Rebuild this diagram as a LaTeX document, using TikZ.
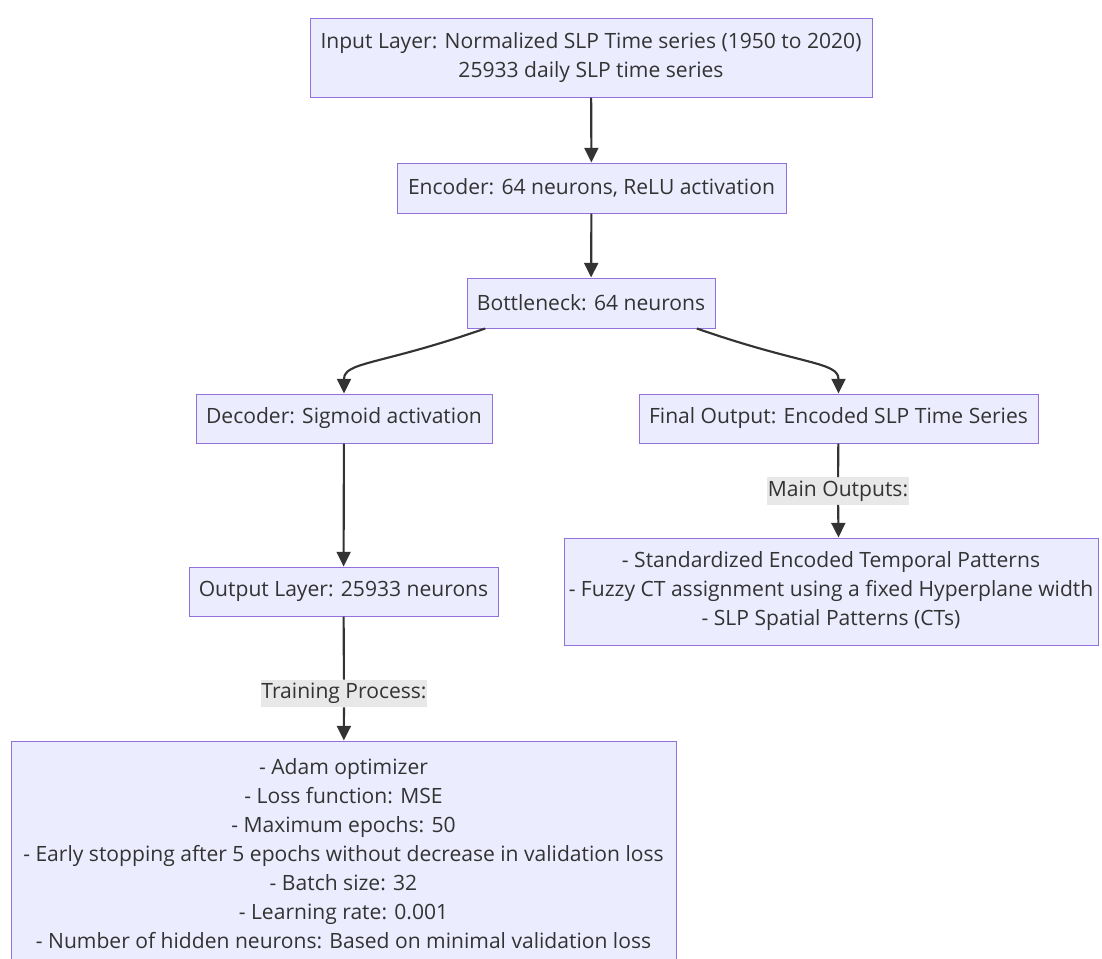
\documentclass[tikz,border=0pt]{standalone}
\usepackage{fontspec}
\setmainfont{Open Sans}
\usetikzlibrary{arrows.meta}

\definecolor{boxfill}{HTML}{ECECFF}
\definecolor{boxline}{HTML}{9370DB}
\definecolor{lblfill}{HTML}{E8E8E8}
\definecolor{edgecol}{HTML}{333333}

\begin{document}
\begin{tikzpicture}[x=0.75pt,y=0.75pt,yscale=-1,xscale=1,
	box/.style={draw=boxline,fill=boxfill,line width=0.75pt,text=edgecol,align=center,inner sep=0pt,
		font=\fontsize{15.8}{21.75}\selectfont},
	lbl/.style={fill=lblfill,text=edgecol,inner xsep=0.5pt,inner ysep=2.5pt,
		font=\fontsize{15.8}{21.75}\selectfont},
	arr/.style={draw=edgecol,line width=1.6pt,-{Triangle[length=11pt,width=10.5pt]}}]
	%set diagram at 1102 x 958
	\useasboundingbox (0,0) rectangle (1102,958);
	\clip (0,0) rectangle (1102,958);
	
	%Shape: Rectangle [input]
	\node [box,minimum width=421.5pt,minimum height=59.25pt] (inp) at (591,57.5)
		{Input Layer: Normalized SLP Time series (1950 to 2020)\\25933 daily SLP time series};
	%Shape: Rectangle [encoder]
	\node [box,minimum width=291.75pt,minimum height=37.5pt] (enc) at (591.5,188) {Encoder: 64 neurons, ReLU activation};
	%Shape: Rectangle [bottleneck]
	\node [box,minimum width=186pt,minimum height=37.5pt] (bneck) at (591,303) {Bottleneck: 64 neurons};
	%Shape: Rectangle [decoder]
	\node [box,minimum width=222pt,minimum height=36.75pt] (dec) at (344,418.5) {Decoder: Sigmoid activation};
	%Shape: Rectangle [final output]
	\node [box,minimum width=299.25pt,minimum height=36.75pt] (fin) at (838.5,418.5) {Final Output: Encoded SLP Time Series};
	%Shape: Rectangle [output layer]
	\node [box,minimum width=231.75pt,minimum height=36.75pt] (outl) at (343.5,591.5) {Output Layer: 25933 neurons};
	%Shape: Rectangle [main outputs]
	\node [box,minimum width=400.5pt,minimum height=80.25pt] (mout) at (831,591.5)
		{- Standardized Encoded Temporal Patterns\\- Fuzzy CT assignment using a fixed Hyperplane width\\- SLP Spatial Patterns (CTs)};
	%Shape: Rectangle [training]
	\node [box,minimum width=498.75pt,minimum height=169.5pt] (train) at (343.5,854)
		{- Adam optimizer\\- Loss function: MSE\\- Maximum epochs: 50\\- Early stopping after 5 epochs without decrease in validation loss\\- Batch size: 32\\- Learning rate: 0.001\\- Number of hidden neurons: Based on minimal validation loss};
	
	% Text Node
	\node [lbl] (tlab) at (344,693.5) {Training Process:};
	% Text Node
	\node [lbl] (mlab) at (838,491) {Main Outputs:};
	
	%Straight Lines
	\draw [arr] (inp) -- (enc);
	\draw [arr] (enc) -- (bneck);
	\draw [arr] (dec) -- (outl);
	\draw [arr] (outl) -- (tlab) -- (train);
	\draw [arr] (fin) -- (mlab) -- (mout.north -| fin.south);
	%Curve Lines
	\draw [arr] ([xshift=14pt]bneck.south west) .. controls +(-106,37) and +(0,-32) .. (dec.north);
	\draw [arr] ([xshift=-14pt]bneck.south east) .. controls +(106,37) and +(0,-32) .. (fin.north);
	
\end{tikzpicture}
\end{document}
